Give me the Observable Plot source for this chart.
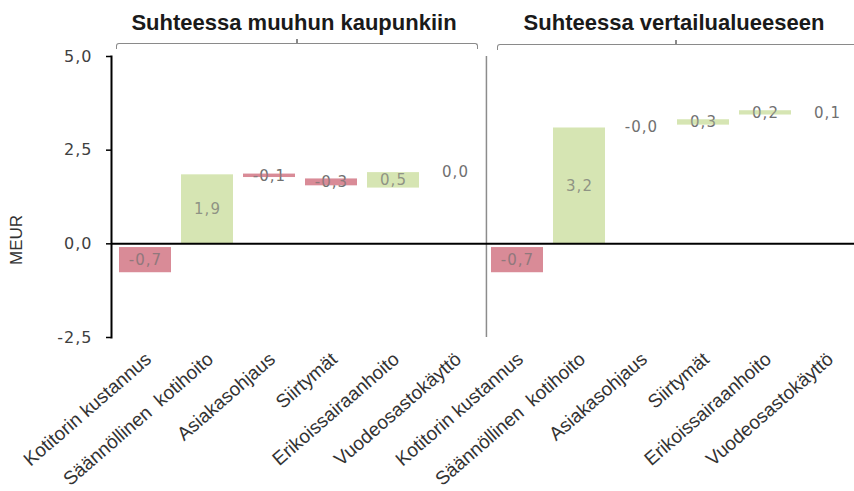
<!DOCTYPE html>
<html>
<head>
<meta charset="utf-8">
<script src="https://cdn.jsdelivr.net/npm/d3@7"></script>
<script src="https://cdn.jsdelivr.net/npm/@observablehq/plot@0.6"></script>
<style>
  html, body { margin: 0; padding: 0; background: #fff; }
  #wrap { position: relative; width: 854px; height: 491px; overflow: hidden; font-family: "Liberation Sans", Arial, sans-serif; }
  #chart { position: absolute; left: 0; top: 0; }
  #chart svg g[aria-label="text"] text, #chart svg g[aria-label="y-axis tick label"] text { letter-spacing: 1px; }
  .title { position: absolute; top: 12px; font-weight: bold; font-size: 22px; line-height: 22px; color: #1a1a1a; white-space: nowrap; transform: translateX(-50%); }
  .bracket { position: absolute; border: 1.5px solid #8a8a8a; border-bottom: none; height: 5px; border-radius: 3px 3px 0 0; box-sizing: content-box; }
  .btick { position: absolute; width: 1.5px; height: 4px; background: #8a8a8a; }
  .ylabel { position: absolute; left: 17px; top: 240px; font-size: 17px; color: #333; transform: translate(-50%, -50%) rotate(-90deg); white-space: nowrap; }
</style>
</head>
<body>
<div id="wrap">
  <div id="chart"></div>
  <div class="title" id="t0" style="left:294px"></div>
  <div class="title" id="t1" style="left:674px"></div>
  <div class="bracket" style="left:116px; top:43px; width:360px;"></div>
  <div class="btick" style="left:296px; top:39px;"></div>
  <div class="bracket" style="left:497px; top:44px; width:400px;"></div>
  <div class="btick" style="left:675px; top:40px;"></div>
  <div class="ylabel" id="ylab"></div>
</div>
<script>
// ---- data ----
const panels = ["Suhteessa muuhun kaupunkiin", "Suhteessa vertailualueeseen"];
const categories = ["Kotitorin kustannus", "Säännöllinen  kotihoito", "Asiakasohjaus", "Siirtymät", "Erikoissairaanhoito", "Vuodeosastokäyttö"];
const yLabel = "MEUR";
const yTicks = [-2.5, 0, 2.5, 5];

// panel 1: Suhteessa muuhun kaupunkiin
const cityValues = [-0.7, 1.9, -0.1, -0.3, 0.5, 0.0];
const cityLabels = ["-0,7", "1,9", "-0,1", "-0,3", "0,5", "0,0"];
const cityFrom   = [-0.1, 0.0, 1.86, 1.73, 1.49, 1.90];
const cityTo     = [-0.77, 1.84, 1.77, 1.55, 1.90, 1.90];

// panel 2: Suhteessa vertailualueeseen
const regionValues = [-0.7, 3.2, -0.0, 0.3, 0.2, 0.1];
const regionLabels = ["-0,7", "3,2", "-0,0", "0,3", "0,2", "0,1"];
const regionFrom   = [-0.1, 0.0, 3.12, 3.17, 3.44, 3.48];
const regionTo     = [-0.77, 3.09, 3.12, 3.31, 3.55, 3.48];

// ---- build table ----
const series = [
  {values: cityValues, labels: cityLabels, from: cityFrom, to: cityTo},
  {values: regionValues, labels: regionLabels, from: regionFrom, to: regionTo}
];
const rows = [];
series.forEach((s, p) => categories.forEach((c, i) => rows.push({
  key: p + "|" + i, panel: panels[p], category: c,
  value: s.values[i], label: s.labels[i], from: s.from[i], to: s.to[i]
})));
const keys = rows.map(d => d.key);
const bars = rows.filter(d => d.from !== d.to);

const RED = "#d98b97", GREEN = "#d6e6b3";
const colorOf = d => d.value < 0 ? RED : GREEN;
const fmt = v => v.toFixed(1).replace(".", ",");

const xRange = [113.4, 859];
const step = (xRange[1] - xRange[0]) / keys.length;

const chart = Plot.plot({
  width: 854,
  height: 491,
  marginLeft: 111,
  marginRight: 0,
  marginTop: 56,
  marginBottom: 154,
  style: {background: "white", fontFamily: "Liberation Sans, Arial, sans-serif", color: "#000"},
  x: {type: "band", domain: keys, range: xRange, paddingInner: 0.16, paddingOuter: 0.08},
  y: {domain: [yTicks[0], yTicks[yTicks.length - 1]]},
  marks: [
    Plot.barY(bars, {x: "key", y1: "from", y2: "to", fill: colorOf}),
    Plot.text(rows, {x: "key", y: d => (d.from + d.to) / 2, text: "label",
      fontFamily: "DejaVu Sans", fontSize: 15, fill: "#707070"}),
    Plot.barY(bars, {x: "key", y1: "from", y2: "to", fill: colorOf, fillOpacity: 0.3}),
    Plot.ruleX([keys[categories.length]], {y1: () => yTicks[0], y2: () => yTicks[yTicks.length - 1],
      dx: -step / 2, stroke: "#8c8c8c", strokeWidth: 1.5}),
    Plot.ruleY([0], {stroke: "#000", strokeWidth: 2}),
    Plot.frame({anchor: "left", stroke: "#000", strokeWidth: 2}),
    Plot.axisY(yTicks, {tickFormat: fmt, tickSize: 5, tickPadding: 14, stroke: "#000", strokeWidth: 1.5,
      fill: "#404040", fontSize: 16, fontFamily: "DejaVu Sans", label: null}),
    Plot.axisX({tickFormat: k => categories[+k.split("|")[1]], tickRotate: -41, tickSize: 0, tickPadding: 19,
      dx: 3, fontSize: 19, fontFamily: "Liberation Sans", fill: "#333", label: null})
  ]
});
document.getElementById("chart").appendChild(chart);
document.getElementById("t0").textContent = panels[0];
document.getElementById("t1").textContent = panels[1];
document.getElementById("ylab").textContent = yLabel;
</script>
</body>
</html>
